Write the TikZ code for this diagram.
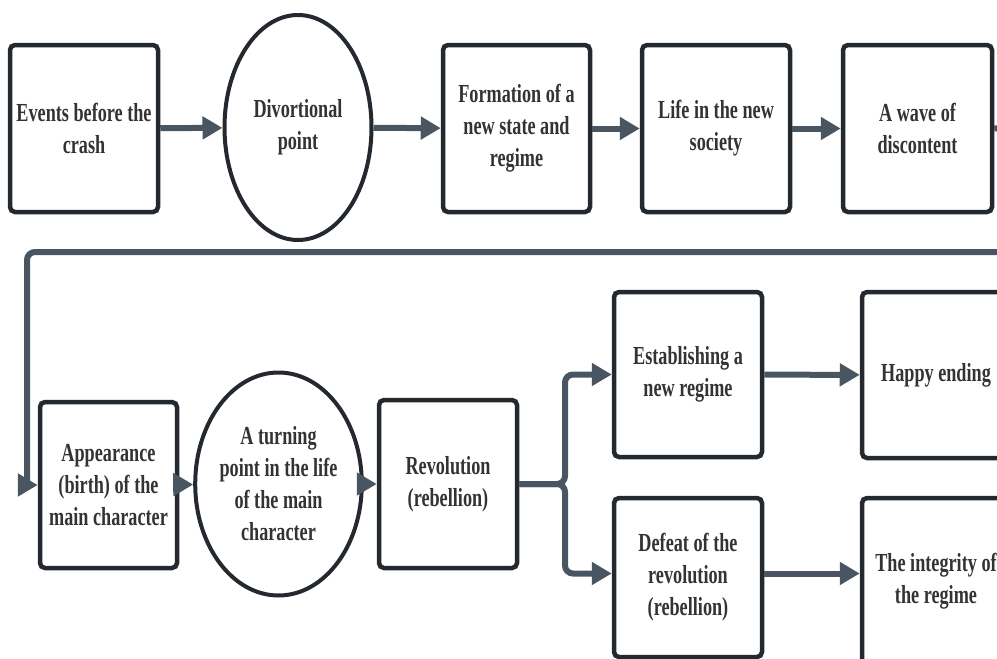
\documentclass[tikz,border=0pt]{standalone}
\usepackage{fontspec}
\setmainfont{Liberation Serif}[FakeStretch=0.7]
\usetikzlibrary{arrows.meta,shapes.geometric}
\definecolor{edgec}{HTML}{24282F}
\definecolor{connc}{HTML}{4A5562}
\definecolor{txtc}{HTML}{333333}
\tikzset{
 base/.style={draw=edgec, line width=4.5pt, text=txtc, font=\fontsize{26}{32}\selectfont\bfseries, align=center, inner sep=0pt, fill=white},
 box/.style={base, rectangle, rounded corners=5pt},
 oval/.style={base, ellipse, line width=4pt},
 conn/.style={draw=connc, line width=6pt, rounded corners=8pt, -{Triangle[length=20pt,width=22pt]}},
 wire/.style={draw=connc, line width=6pt, rounded corners=8pt},
}
\begin{document}
\begin{tikzpicture}[x=1pt,y=-1pt]
\path[use as bounding box] (0,0) rectangle (997,659);
\clip (0,0) rectangle (997,659);
\fill[white] (0,0) rectangle (997,659);
% row 1
\node[box, minimum width=148pt, minimum height=167pt] (events) at (84,128.5) {Events before the\\crash};
\node[oval, minimum width=147pt, minimum height=225pt] (div) at (298,127.5) {Divortional\\point};
\node[box, minimum width=147pt, minimum height=167pt] (form) at (516.5,128.5) {Formation of a\\new state and\\regime};
\node[box, minimum width=148pt, minimum height=167pt] (life) at (716,128.5) {Life in the new\\society};
\node[box, minimum width=149pt, minimum height=167pt] (wave) at (917.5,128.5) {A wave of\\discontent};
% row 2
\node[box, minimum width=137pt, minimum height=166pt] (app) at (108.5,485) {Appearance\\(birth) of the\\main character};
\node[oval, minimum width=137pt, minimum height=223pt] (turn) at (278.5,484) {A turning\\point in the life\\of the main\\character};
\node[box, minimum width=138pt, minimum height=168pt] (rev) at (448,484) {Revolution\\(rebellion)};
\node[box, minimum width=148pt, minimum height=165pt] (est) at (688,374.5) {Establishing a\\new regime};
\node[box, minimum width=148pt, minimum height=159pt] (def) at (688,577.5) {\raisebox{-4pt}{\begin{tabular}{@{}c@{}}Defeat of the\\revolution\\(rebellion)\end{tabular}}};
\node[box, minimum width=148pt, minimum height=166pt] (happy) at (936,375) {Happy ending};
\node[box, minimum width=148pt, minimum height=167pt] (integ) at (936,581.5) {The integrity of\\the regime};
% connectors row 1
\draw[conn] (events) -- (div);
\draw[conn] (div) -- (form);
\draw[conn] (form) -- (life);
\draw[conn] (life) -- (wave);
% loop back
\coordinate (l1) at (1015,128);
\coordinate (l2) at (1015,252);
\coordinate (l3) at (27,252);
\coordinate (l4) at (27,485);
\coordinate (l5) at (18,485);
\draw[wire] (wave.east) -- (l1) -- (l2) -- (l3) -- (l4);
\draw[conn] (l5) -- (app.west);
% row 2
\draw[conn] (app) -- (turn);
\draw[conn] (turn) -- (rev);
\coordinate (br) at (565,484);
\draw[conn] (rev.east) -- (br) |- (est.west);
\draw[conn] (rev.east) -- (br) |- ([yshift=4pt]def.west);
\draw[conn] (est) -- (happy);
\draw[conn] ([yshift=4pt]def.east) -- ([yshift=4pt]def.east -| integ.west);
\end{tikzpicture}
\end{document}
